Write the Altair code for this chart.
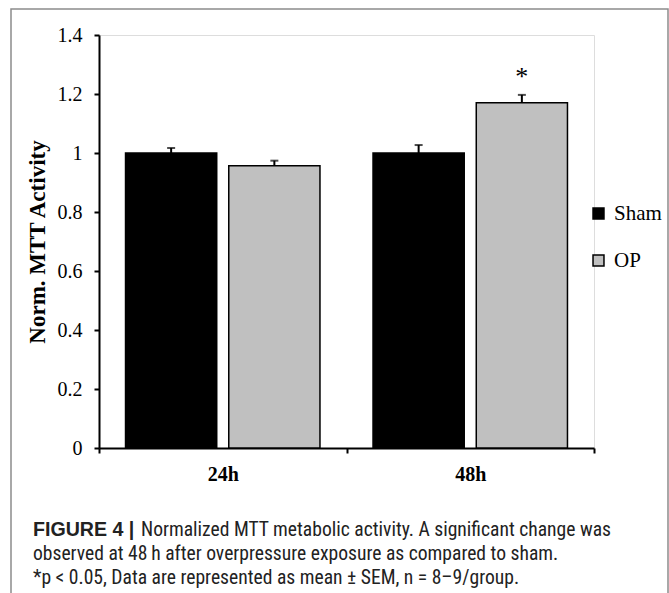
import altair as alt
import pandas as pd

# ---- data ----
timepoints = ["24h", "24h", "48h", "48h"]
groups = ["Sham", "OP", "Sham", "OP"]
means = [1.0, 0.957, 1.0, 1.17]
sems = [0.017, 0.017, 0.027, 0.027]
sig = ["", "", "", "*"]
y_ticks = [0, 0.2, 0.4, 0.6, 0.8, 1.0, 1.2, 1.4]
group_order = ["Sham", "OP"]
group_colors = ["#000000", "#c0c0c0"]
caption_bold = "FIGURE 4 |"
caption_lines = [
    "Normalized MTT metabolic activity. A significant change was",
    "observed at 48\u2009h after overpressure exposure as compared to sham.",
    "*p < 0.05, Data are represented as mean \u00b1 SEM, n =  8\u20139/group.",
]

df = pd.DataFrame({"time": timepoints, "group": groups, "mean": means, "sem": sems, "sig": sig})
df["top"] = df["mean"] + df["sem"]

SERIF = "Liberation Serif, Times New Roman, serif"
SANS = "Liberation Sans Narrow, Roboto Condensed, Liberation Sans, Arial, sans-serif"
SANS_BOLD = "Liberation Sans, Arial, sans-serif"

x_enc = alt.X(
    "time:N",
    scale=alt.Scale(paddingInner=0, paddingOuter=0),
    axis=alt.Axis(
        title=None, labelAngle=0, labelFont=SERIF, labelFontWeight="bold", labelFontSize=20,
        labelColor="black", domainColor="black", domainWidth=2, tickColor="black",
        tickWidth=2, tickSize=5, tickBand="extent", labelPadding=11,
    ),
)
xoff_enc = alt.XOffset(
    "group:N", sort=group_order,
    scale=alt.Scale(domain=group_order, paddingInner=0.1165, paddingOuter=0.257),
)
y_scale = alt.Scale(domain=[0, 1.4], nice=False, zero=True)

bars = alt.Chart(df).mark_bar(stroke="black", strokeWidth=1.5).encode(
    x=x_enc,
    xOffset=xoff_enc,
    y=alt.Y(
        "mean:Q", scale=y_scale,
        axis=alt.Axis(
            values=y_ticks, format="~g", title="Norm. MTT Activity", titleFont=SERIF,
            titleFontWeight="bold", titleFontSize=23, titleColor="black", titlePadding=8,
            labelFont=SERIF, labelFontSize=20, labelColor="black", labelPadding=12,
            domainColor="black", domainWidth=2, tickColor="black", tickWidth=2, tickSize=5,
            grid=False,
        ),
    ),
    fill=alt.Fill(
        "group:N", scale=alt.Scale(domain=group_order, range=group_colors),
        legend=alt.Legend(
            title=None, orient="none", legendX=489, legendY=168, symbolType="square",
            symbolSize=120, symbolStrokeColor="black", symbolStrokeWidth=1.5,
            labelFont=SERIF, labelFontSize=21, labelColor="black", rowPadding=25, labelOffset=5,
        ),
    ),
)

err = alt.Chart(df).mark_rule(color="black", strokeWidth=2).encode(
    x="time:N", xOffset=xoff_enc, y=alt.Y("mean:Q", scale=y_scale), y2="top:Q"
)
caps = alt.Chart(df).mark_tick(color="black", thickness=2, size=8).encode(
    x="time:N", xOffset=xoff_enc, y=alt.Y("top:Q", scale=y_scale)
)
stars = alt.Chart(df).mark_text(font=SERIF, fontSize=26, dy=-18, color="black").encode(
    x="time:N", xOffset=xoff_enc, y=alt.Y("top:Q", scale=y_scale), text="sig:N"
)

border = alt.Chart(pd.DataFrame({"a": [0]})).mark_rect(
    fill="transparent", stroke="#8c8c8c", strokeWidth=1.5
).encode(x=alt.value(-88), x2=alt.value(569), y=alt.value(-26), y2=alt.value(620))

cap_layers = [
    alt.Chart(pd.DataFrame({"t": [caption_bold]})).mark_text(
        align="left", baseline="alphabetic", font=SANS_BOLD, fontSize=19.6, fontWeight="bold", color="#222"
    ).encode(x=alt.value(-66), y=alt.value(501), text="t:N")
]
for i, line in enumerate(caption_lines):
    cap_layers.append(
        alt.Chart(pd.DataFrame({"t": [line]})).mark_text(
            align="left", baseline="alphabetic", font=SANS, fontSize=19.6, color="#222"
        ).encode(x=alt.value(-66 + (108 if i == 0 else 0)), y=alt.value(501 + 24 * i), text="t:N")
    )

chart = alt.layer(border, bars, err, caps, stars, *cap_layers).properties(
    width=495, height=413,
    autosize=alt.AutoSizeParams(type="none"),
    padding={"left": 99, "top": 35, "right": 75, "bottom": 145},
).configure_view(stroke=None).configure(background="white")

chart.save("out.html", embed_options={"renderer": "svg", "actions": False})
